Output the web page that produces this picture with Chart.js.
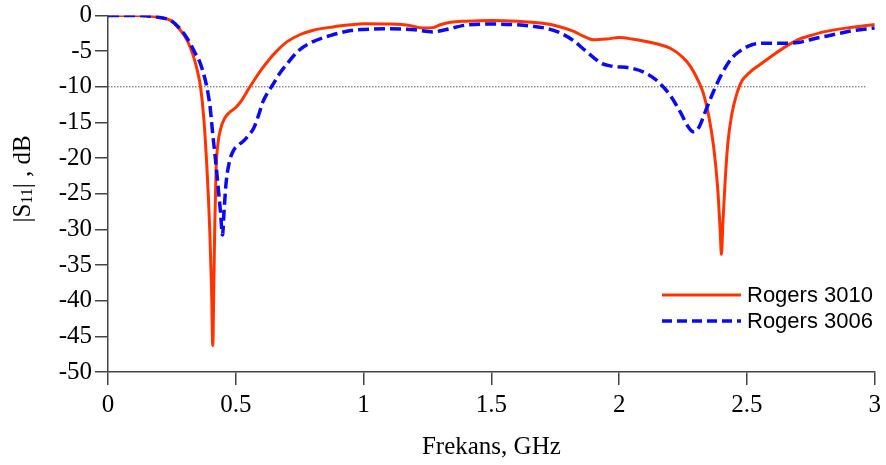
<!DOCTYPE html>
<html>
<head>
<meta charset="utf-8">
<script src="https://cdn.jsdelivr.net/npm/chart.js@4.4.0/dist/chart.umd.min.js"></script>
<style>
  body { margin: 0; background: #fff; }
</style>
</head>
<body>
<canvas id="myChart" width="886" height="465"></canvas>
<script>
// data
const freq3010 = [0, 0.1, 0.15, 0.2, 0.25, 0.28, 0.31, 0.335, 0.35, 0.362, 0.375, 0.388, 0.398, 0.405, 0.41,
  0.414, 0.418, 0.423, 0.43, 0.44, 0.455, 0.475, 0.5, 0.525, 0.55, 0.575, 0.6, 0.63, 0.66, 0.7, 0.75, 0.8,
  0.88, 0.95, 1.0, 1.1, 1.18, 1.23, 1.27, 1.3, 1.34, 1.4, 1.5, 1.6, 1.7, 1.76, 1.82, 1.86, 1.9, 1.95, 2.0,
  2.05, 2.1, 2.15, 2.2, 2.25, 2.28, 2.31, 2.33, 2.35, 2.37, 2.385, 2.395, 2.4, 2.406, 2.415, 2.425, 2.44,
  2.46, 2.48, 2.51, 2.55, 2.6, 2.65, 2.7, 2.75, 2.8, 2.9, 3.0];
const s3010 = [0, 0, -0.05, -0.25, -0.8, -1.9, -3.5, -5.8, -7.8, -10, -14.5, -22, -30, -38, -46.3,
  -38, -29, -21.5, -18, -16, -14.5, -13.6, -12.9, -11.8, -10.3, -8.9, -7.6, -6.2, -5.0, -3.7, -2.7, -2.1,
  -1.6, -1.3, -1.15, -1.2, -1.4, -1.75, -1.7, -1.3, -0.95, -0.8, -0.7, -0.8, -1.1, -1.5, -2.2, -2.9, -3.4, -3.3, -3.1,
  -3.3, -3.6, -4.0, -4.6, -5.9, -7.2, -9.2, -11, -14, -18.5, -24, -30, -33.5, -29, -23, -18, -14,
  -11, -9.2, -8.0, -6.9, -5.6, -4.4, -3.4, -2.8, -2.3, -1.7, -1.25];

const freq3006 = [0, 0.1, 0.15, 0.2, 0.25, 0.28, 0.31, 0.34, 0.36, 0.375, 0.386, 0.4, 0.41, 0.42, 0.43, 0.44,
  0.448, 0.454, 0.462, 0.475, 0.49, 0.51, 0.53, 0.55, 0.57, 0.59, 0.605, 0.625, 0.645, 0.67, 0.7, 0.75, 0.8,
  0.88, 0.95, 1.0, 1.1, 1.2, 1.27, 1.32, 1.4, 1.5, 1.6, 1.7, 1.76, 1.82, 1.86, 1.9, 1.93, 1.97, 2.05, 2.1,
  2.15, 2.2, 2.24, 2.27, 2.29, 2.31, 2.34, 2.37, 2.4, 2.44, 2.48, 2.52, 2.57, 2.65, 2.7, 2.77, 2.85, 2.9, 3.0];
const s3006 = [0, 0, -0.05, -0.25, -0.8, -1.8, -3.2, -5.2, -6.6, -8.3, -9.9, -13, -16.7, -20, -23.7, -27.5,
  -30.8, -27.5, -23.5, -20.5, -19, -18.2, -17.6, -16.8, -15.8, -13.9, -12.2, -10.8, -9.7, -8.2, -6.8, -4.8, -3.7,
  -2.7, -2.1, -1.95, -1.85, -2.0, -2.3, -2.0, -1.35, -1.2, -1.3, -1.7, -2.3, -3.5, -4.7, -5.9, -6.7, -7.1, -7.4, -8.0,
  -9.2, -11.2, -13.6, -15.6, -16.3, -15.8, -13.2, -10.6, -8.3, -6.0, -4.8, -4.1, -3.9, -3.9, -3.8, -3.2, -2.6, -2.2, -1.75];

// -10 dB reference line
const refFreq = [0, 2.97];
const refLevel = [-10, -10];

const xTicks = [0, 0.5, 1, 1.5, 2, 2.5, 3];
const yTicks = [0, -5, -10, -15, -20, -25, -30, -35, -40, -45, -50];
const legendLabels = ['Rogers 3010', 'Rogers 3006'];

function toPoints(xs, ys) {
  return xs.map((x, i) => ({ x: x, y: ys[i] }));
}

const RED = '#ff3300';
const BLUE = '#0a0af5';
const serif = '"Liberation Serif", "Times New Roman", serif';

// y title with subscript, drawn by hand
const yTitlePlugin = {
  id: 'yTitle',
  afterDraw(chart) {
    const ctx = chart.ctx;
    const big = '25px ' + serif;
    const small = '16px ' + serif;
    const parts = [['|S', big, 0], ['11', small, 5], ['| , dB', big, 0]];
    ctx.save();
    let total = 0;
    parts.forEach(p => { ctx.font = p[1]; total += ctx.measureText(p[0]).width; });
    ctx.translate(23, 179);
    ctx.rotate(-Math.PI / 2);
    ctx.fillStyle = '#000';
    ctx.textBaseline = 'middle';
    ctx.textAlign = 'left';
    let x = -total / 2;
    parts.forEach(p => {
      ctx.font = p[1];
      ctx.fillText(p[0], x, p[2]);
      x += ctx.measureText(p[0]).width;
    });
    ctx.restore();
  }
};

// legend in lower right of the plot
const legendPlugin = {
  id: 'boxLegend',
  afterDraw(chart) {
    const ctx = chart.ctx;
    const styles = [
      { color: RED, width: 3, dash: [] },
      { color: BLUE, width: 3.5, dash: [10, 5] }
    ];
    ctx.save();
    legendLabels.forEach((lab, i) => {
      const y = 295 + i * 26;
      ctx.beginPath();
      ctx.strokeStyle = styles[i].color;
      ctx.lineWidth = styles[i].width;
      ctx.setLineDash(styles[i].dash);
      ctx.moveTo(662, y);
      ctx.lineTo(741, y);
      ctx.stroke();
      ctx.setLineDash([]);
      ctx.fillStyle = '#000';
      ctx.font = '22px "Liberation Sans", Arial, sans-serif';
      ctx.textBaseline = 'middle';
      ctx.fillText(lab, 747, y + 1);
    });
    ctx.restore();
  }
};

const data = {
  datasets: [
    {
      label: legendLabels[0],
      data: toPoints(freq3010, s3010),
      borderColor: RED,
      borderWidth: 3,
      order: 2
    },
    {
      label: legendLabels[1],
      data: toPoints(freq3006, s3006),
      borderColor: BLUE,
      borderWidth: 3.5,
      borderDash: [11, 5],
      order: 1
    },
    {
      label: 'ref',
      data: toPoints(refFreq, refLevel),
      borderColor: '#555',
      borderWidth: 1,
      borderDash: [1.5, 1.5],
      tension: 0,
      order: 3
    }
  ]
};

const config = {
  type: 'line',
  data,
  options: {
    responsive: false,
    animation: false,
    devicePixelRatio: 1,
    layout: { padding: { top: 14, right: 10, left: 0, bottom: 0 } },
    elements: {
      point: { radius: 0 },
      line: { tension: 0.4, cubicInterpolationMode: 'monotone', fill: false }
    },
    plugins: {
      legend: { display: false },
      tooltip: { enabled: false }
    },
    scales: {
      x: {
        type: 'linear',
        min: 0,
        max: 3,
        afterBuildTicks: (s) => { s.ticks = xTicks.map(v => ({ value: v })); },
        afterFit: (s) => { s.height = 93; },
        ticks: {
          color: '#000',
          font: { family: serif, size: 25 },
          padding: 5,
          maxRotation: 0,
          callback: (v) => String(v)
        },
        grid: { drawOnChartArea: false, tickLength: 13, color: '#444', lineWidth: 1.5 },
        border: { display: true, color: '#444', width: 1.5 },
        title: {
          display: true,
          text: 'Frekans, GHz',
          color: '#000',
          font: { family: serif, size: 25 },
          padding: { top: 0, bottom: 3 }
        }
      },
      y: {
        min: -50,
        max: 0,
        afterBuildTicks: (s) => { s.ticks = yTicks.map(v => ({ value: v })); },
        afterFit: (s) => { s.width = 108; },
        ticks: {
          color: '#000',
          font: { family: serif, size: 25, lineHeight: 1 },
          padding: 3,
          callback: (v) => String(v)
        },
        grid: { drawOnChartArea: false, tickLength: 13, color: '#444', lineWidth: 1.5 },
        border: { display: true, color: '#444', width: 1.5 }
      }
    }
  },
  plugins: [yTitlePlugin, legendPlugin]
};

const myChart = new Chart(document.getElementById('myChart'), config);
</script>
</body>
</html>
